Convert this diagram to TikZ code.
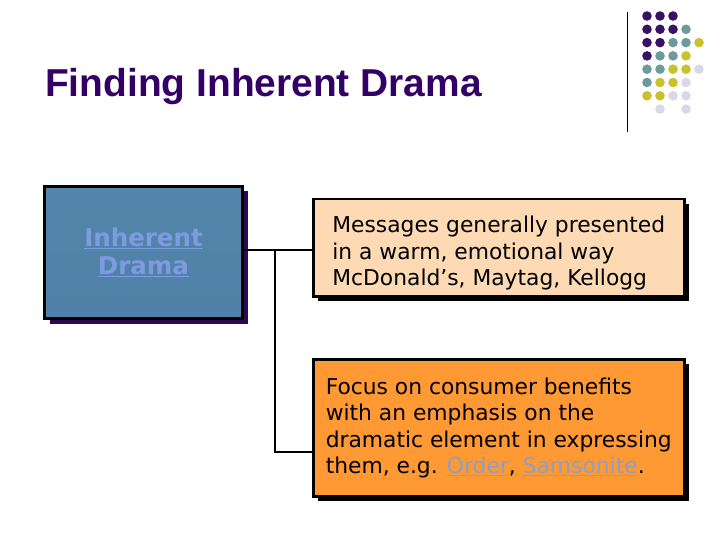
\documentclass[tikz,border=0pt]{standalone}
\usepackage{fontspec}
\usepackage{tikz}
\usetikzlibrary{positioning,calc,shadows}
\newfontfamily\titlefont{Liberation Sans}
\newfontfamily\boxfont{DejaVu Sans}
\definecolor{titlepurple}{HTML}{330066}
\definecolor{shadowpurple}{HTML}{2A0A55}
\definecolor{linkblue}{HTML}{7E9BE2}
\definecolor{linkgrey}{HTML}{8E9EC4}
\definecolor{peach}{HTML}{FEDAB4}
\definecolor{orange}{HTML}{FF9933}
\definecolor{dramatop}{HTML}{5385AA}
\definecolor{dramamid}{HTML}{6EACDA}
\definecolor{dramabot}{HTML}{5081A8}
\definecolor{dotpurple}{HTML}{3B1166}
\definecolor{dotteal}{HTML}{6C9B9C}
\definecolor{dotyellow}{HTML}{C9C22E}
\definecolor{dotlav}{HTML}{D8D8E9}

\begin{document}
\begin{tikzpicture}[x=1pt,y=-1pt,
    infobox/.style={draw, line width=2.5pt, anchor=north west, align=left,
      minimum width=371pt, minimum height=97pt,
      font=\boxfont\fontsize{21.8}{26.5}\selectfont,
      drop shadow={shadow xshift=5pt, shadow yshift=-5pt, fill=black, opacity=1}}]
  \useasboundingbox (0,0) rectangle (720,540);

  % Title
  \node[anchor=base west, inner sep=0pt, text=titlepurple,
        font=\titlefont\bfseries\fontsize{38.9}{44}\selectfont] (title) at (45,97) {Finding Inherent Drama};

  % Corner dots
  \draw[line width=1pt] (627,12) -- (627,132);
  \foreach \c/\r in {0/0,1/0,2/0,0/1,1/1,2/1,0/2,1/2,0/3}
    \fill[dotpurple] ({647+13*\c},{16+13.3*\r}) circle (4.8);
  \foreach \c/\r in {3/1,2/2,3/2,1/3,2/3,0/4,1/4,0/5}
    \fill[dotteal] ({647+13*\c},{16+13.3*\r}) circle (4.8);
  \foreach \c/\r in {4/2,3/3,2/4,3/4,1/5,2/5,0/6,1/6}
    \fill[dotyellow] ({647+13*\c},{16+13.3*\r}) circle (4.8);
  \foreach \c/\r in {4/4,3/5,2/6,3/6,1/7,3/7}
    \fill[dotlav] ({647+13*\c},{16+13.3*\r}) circle (4.8);

  % Boxes
  \node[draw, line width=3pt, anchor=north west, minimum width=198pt, minimum height=132pt,
        top color=dramatop, middle color=dramamid, bottom color=dramabot,
        drop shadow={shadow xshift=5pt, shadow yshift=-5pt, fill=shadowpurple, opacity=1},
        text=linkblue, align=center,
        font=\boxfont\bfseries\fontsize{24.5}{28.5}\selectfont] (drama) at (43,185)
        {\underline{Inherent}\\\underline{Drama}};
  \node[infobox, fill=peach] (warm) at (312,198)
        {\rule{0pt}{28pt}Messages generally presented\\in a warm, emotional way\\McDonald’s, Maytag, Kellogg};
  \node[infobox, fill=orange, minimum height=137pt] (focus) at (312,358)
        {Focus on consumer benefits\\with an emphasis on the\\dramatic element in expressing\\them, e.g. \textcolor{linkgrey}{\underline{Order}}, \textcolor{linkgrey}{\underline{Samsonite}}.};

  % Connectors
  \coordinate (split) at (275,250);
  \coordinate (lowjoin) at (275,452);
  \draw[line width=2.5pt] (drama.east |- split) -- (split -| warm.west);
  \draw[line width=2.5pt] (split) -- (lowjoin) -- (lowjoin -| focus.west);
\end{tikzpicture}
\end{document}
